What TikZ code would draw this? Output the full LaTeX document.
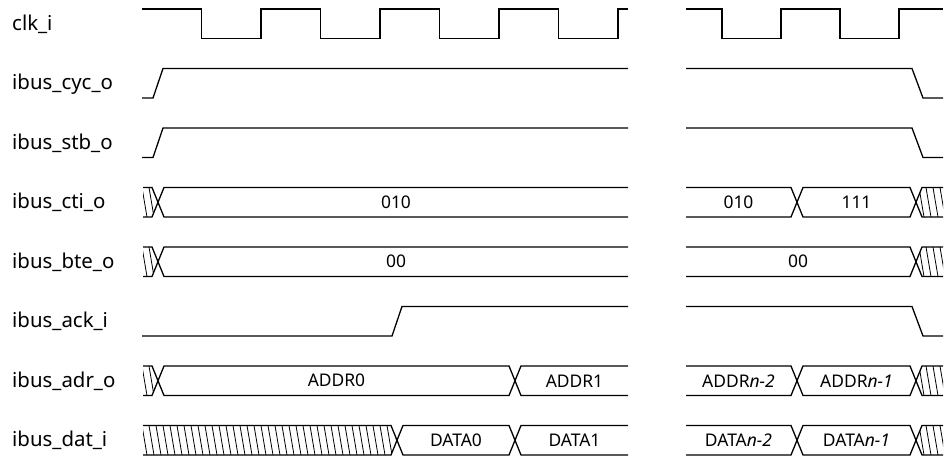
\documentclass[tikz,border=0pt]{standalone}
\usepackage{fontspec}
\setmainfont{Noto Sans}

% top, bottom and middle of one row
\newcommand{\setrow}[1]{%
  \pgfmathsetmacro{\yt}{9+#1*59.5}%
  \pgfmathsetmacro{\yb}{\yt+29.5}%
  \pgfmathsetmacro{\ym}{\yt+14.75}}
% hatched (unknown) value ending in a crossing
\newcommand{\hatchl}[2]{%
  \begin{scope}
    \clip (#1,\yt) -- (#2-6,\yt) -- (#2,\ym) -- (#2-6,\yb) -- (#1,\yb) -- cycle;
    \foreach \hx in {100,107,...,950} \draw[hatchln] (\hx,\yt) -- (\hx+5,\yb);
  \end{scope}}
% hatched (unknown) value starting at a crossing
\newcommand{\hatchr}[2]{%
  \begin{scope}
    \clip (#1,\ym) -- (#1+6,\yt) -- (#2,\yt) -- (#2,\yb) -- (#1+6,\yb) -- cycle;
    \foreach \hx in {100,107,...,950} \draw[hatchln] (\hx,\yt) -- (\hx+5,\yb);
  \end{scope}}

\begin{document}
\begin{tikzpicture}[x=1bp, y=-1bp,
    sig/.style={line width=1.3bp, line join=miter},
    hatchln/.style={line width=0.8bp},
    lbl/.style={font=\fontsize{20.5}{24}\selectfont, anchor=base west, inner sep=0pt},
    val/.style={font=\fontsize{17.5}{21}\selectfont}]
  \useasboundingbox (0,0) rectangle (946,456);
  \def\xe{628}   % end of first part
  \def\xs{686}   % start of second part
  \def\xr{943}   % end of second part

  % signal names
  \foreach \name [count=\i from 0] in {clk\_i, ibus\_cyc\_o, ibus\_stb\_o, ibus\_cti\_o,
      ibus\_bte\_o, ibus\_ack\_i, ibus\_adr\_o, ibus\_dat\_i} {
    \pgfmathsetmacro{\ly}{9 + \i*59.5 + 14.75 + 6.5}
    \node[lbl] (name\i) at (12, \ly) {\name};
  }

  % clk_i
  \setrow{0}
  \draw[sig] (142,\yt) foreach \k in {1,...,4} { -- ++(59.5,0) -- ++(0,29.5) -- ++(59.5,0) -- ++(0,-29.5) } -- (\xe,\yt);
  \draw[sig] (\xs,\yt) -- (722,\yt) -- (722,\yb) -- (781,\yb) -- (781,\yt) -- (840,\yt)
    -- (840,\yb) -- (899,\yb) -- (899,\yt) -- (\xr,\yt);

  % ibus_cyc_o, ibus_stb_o
  \foreach \r in {1,2} {
    \setrow{\r}
    \draw[sig] (142,\yb) -- (153,\yb) -- (163,\yt) -- (\xe,\yt);
    \draw[sig] (\xs,\yt) -- (912,\yt) -- (923,\yb) -- (\xr,\yb);
  }

  % ibus_cti_o
  \setrow{3}
  \hatchl{143}{158}
  \hatchr{916}{\xr}
  \draw[sig] (143,\yt) -- (152,\yt) -- (164,\yb) -- (\xe,\yb);
  \draw[sig] (143,\yb) -- (152,\yb) -- (164,\yt) -- (\xe,\yt);
  \draw[sig] (\xs,\yt) -- (791,\yt) -- (803,\yb) -- (910,\yb) -- (922,\yt) -- (\xr,\yt);
  \draw[sig] (\xs,\yb) -- (791,\yb) -- (803,\yt) -- (910,\yt) -- (922,\yb) -- (\xr,\yb);
  \node[val] (cti0) at (396,\ym) {010};
  \node[val] (cti1) at (738.5,\ym) {010};
  \node[val] (cti2) at (856.5,\ym) {111};

  % ibus_bte_o
  \setrow{4}
  \hatchl{143}{158}
  \hatchr{916}{\xr}
  \draw[sig] (143,\yt) -- (152,\yt) -- (164,\yb) -- (\xe,\yb);
  \draw[sig] (143,\yb) -- (152,\yb) -- (164,\yt) -- (\xe,\yt);
  \draw[sig] (\xs,\yt) -- (910,\yt) -- (922,\yb) -- (\xr,\yb);
  \draw[sig] (\xs,\yb) -- (910,\yb) -- (922,\yt) -- (\xr,\yt);
  \node[val] (bte0) at (396,\ym) {00};
  \node[val] (bte1) at (798,\ym) {00};

  % ibus_ack_i
  \setrow{5}
  \draw[sig] (142,\yb) -- (392,\yb) -- (402,\yt) -- (\xe,\yt);
  \draw[sig] (\xs,\yt) -- (912,\yt) -- (923,\yb) -- (\xr,\yb);

  % ibus_adr_o
  \setrow{6}
  \hatchl{143}{158}
  \hatchr{916}{\xr}
  \draw[sig] (143,\yt) -- (152,\yt) -- (164,\yb) -- (509,\yb) -- (521,\yt) -- (\xe,\yt);
  \draw[sig] (143,\yb) -- (152,\yb) -- (164,\yt) -- (509,\yt) -- (521,\yb) -- (\xe,\yb);
  \draw[sig] (\xs,\yt) -- (791,\yt) -- (803,\yb) -- (910,\yb) -- (922,\yt) -- (\xr,\yt);
  \draw[sig] (\xs,\yb) -- (791,\yb) -- (803,\yt) -- (910,\yt) -- (922,\yb) -- (\xr,\yb);
  \node[val] (adr0) at (336.5,\ym) {ADDR0};
  \node[val] (adr1) at (574.5,\ym) {ADDR1};
  \node[val] (adr2) at (738.5,\ym) {ADDR\textit{n-2}};
  \node[val] (adr3) at (856.5,\ym) {ADDR\textit{n-1}};

  % ibus_dat_i
  \setrow{7}
  \hatchl{143}{397}
  \hatchr{916}{\xr}
  \draw[sig] (143,\yt) -- (391,\yt) -- (403,\yb) -- (509,\yb) -- (521,\yt) -- (\xe,\yt);
  \draw[sig] (143,\yb) -- (391,\yb) -- (403,\yt) -- (509,\yt) -- (521,\yb) -- (\xe,\yb);
  \draw[sig] (\xs,\yt) -- (791,\yt) -- (803,\yb) -- (910,\yb) -- (922,\yt) -- (\xr,\yt);
  \draw[sig] (\xs,\yb) -- (791,\yb) -- (803,\yt) -- (910,\yt) -- (922,\yb) -- (\xr,\yb);
  \node[val] (dat0) at (456,\ym) {DATA0};
  \node[val] (dat1) at (574.5,\ym) {DATA1};
  \node[val] (dat2) at (738.5,\ym) {DATA\textit{n-2}};
  \node[val] (dat3) at (856.5,\ym) {DATA\textit{n-1}};

\end{tikzpicture}
\end{document}
